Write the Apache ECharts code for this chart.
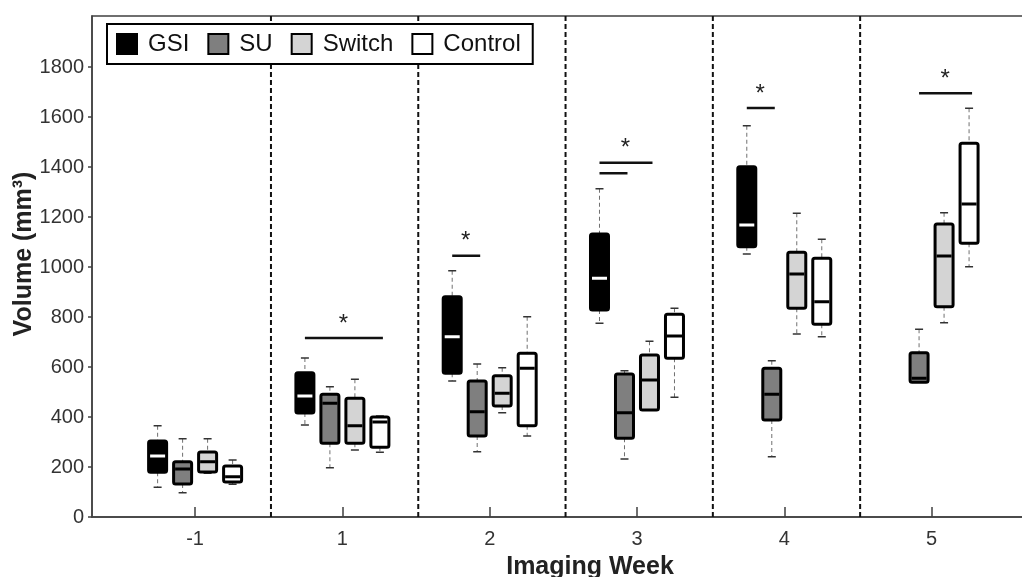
<!DOCTYPE html>
<html>
<head>
<meta charset="utf-8">
<script src="https://cdn.jsdelivr.net/npm/echarts@6/dist/echarts.min.js"></script>
<style>
html, body { margin: 0; padding: 0; background: #fff; }
#main { width: 1022px; height: 577px; }
</style>
</head>
<body>
<div id="main"></div>
<script>
const weeks = ['-1', '1', '2', '3', '4', '5'];
const groups = ['GSI', 'SU', 'Switch', 'Control'];

// [min, q1, median, q3, max] for each week, null = no box
const gsiStats = [
    [119, 179, 244, 304, 365],
    [368, 416, 484, 577, 636],
    [544, 575, 721, 881, 985],
    [775, 828, 955, 1132, 1313],
    [1052, 1081, 1168, 1401, 1565],
    null
];
const suStats = [
    [97, 132, 192, 221, 313],
    [197, 295, 455, 491, 521],
    [261, 324, 421, 544, 612],
    [232, 315, 417, 572, 585],
    [241, 388, 491, 595, 625],
    [539, 539, 555, 657, 751]
];
const switchStats = [
    [175, 180, 221, 260, 313],
    [268, 295, 365, 475, 551],
    [417, 444, 495, 565, 597],
    [428, 428, 548, 648, 703],
    [732, 835, 972, 1059, 1215],
    [777, 841, 1044, 1172, 1217]
];
const controlStats = [
    [131, 140, 161, 204, 228],
    [259, 279, 380, 400, 404],
    [324, 365, 595, 655, 801],
    [479, 635, 724, 811, 835],
    [721, 771, 861, 1035, 1111],
    [1001, 1095, 1252, 1495, 1635]
];

// significance bars: [week index, from group, to group, value, has star]
const sigBars = [
    [1, 0, 3, 716, 1],
    [2, 0, 1, 1045, 1],
    [3, 0, 2, 1417, 1],
    [3, 0, 1, 1375, 0],
    [4, 0, 1, 1636, 1],
    [5, 1, 3, 1695, 1]
];

const yTicks = [0, 200, 400, 600, 800, 1000, 1200, 1400, 1600, 1800];
const dividers = [0.515, 1.515, 2.515, 3.515, 4.515];

const fillColors = ['#000000', '#7f7f7f', '#d4d4d4', '#ffffff'];
const medianColors = ['#ffffff', '#000000', '#000000', '#000000'];
const groupStep = 0.1697; // spacing of boxes inside a week (axis units)
const FONT = 'Liberation Sans, Arial, sans-serif';

const allStats = [gsiStats, suStats, switchStats, controlStats];

function boxRenderer(g) {
    return function (params, api) {
        const x = api.value(0) + (g - 1.5) * groupStep;
        const lo = api.coord([x, api.value(1)]);
        const q1 = api.coord([x, api.value(2)]);
        const med = api.coord([x, api.value(3)]);
        const q3 = api.coord([x, api.value(4)]);
        const hi = api.coord([x, api.value(5)]);
        const cx = lo[0];
        const w = 18;
        const cap = 4;
        const dash = { stroke: '#707070', lineWidth: 1, lineDash: [4, 3] };
        const capStyle = { stroke: '#333', lineWidth: 1.5 };
        return {
            type: 'group',
            children: [
                { type: 'line', shape: { x1: cx, y1: hi[1], x2: cx, y2: q3[1] }, style: dash },
                { type: 'line', shape: { x1: cx, y1: q1[1], x2: cx, y2: lo[1] }, style: dash },
                { type: 'line', shape: { x1: cx - cap, y1: hi[1], x2: cx + cap, y2: hi[1] }, style: capStyle },
                { type: 'line', shape: { x1: cx - cap, y1: lo[1], x2: cx + cap, y2: lo[1] }, style: capStyle },
                {
                    type: 'rect',
                    shape: { x: cx - w / 2, y: q3[1], width: w, height: q1[1] - q3[1], r: 2 },
                    style: { fill: fillColors[g], stroke: '#000', lineWidth: 3 }
                },
                {
                    type: 'line',
                    shape: { x1: cx - w / 2 + 1.5, y1: med[1], x2: cx + w / 2 - 1.5, y2: med[1] },
                    style: { stroke: medianColors[g], lineWidth: 3 }
                }
            ]
        };
    };
}

const series = [];

// dashed week dividers
series.push({
    type: 'custom',
    silent: true,
    data: dividers.map(d => [d]),
    renderItem: function (params, api) {
        const p = api.coord([api.value(0), 0]);
        const top = params.coordSys.y;
        return {
            type: 'line',
            shape: { x1: p[0], y1: p[1], x2: p[0], y2: top },
            style: { stroke: '#111', lineWidth: 2, lineDash: [5, 3] }
        };
    },
    z: 1
});

groups.forEach((name, g) => {
    const data = [];
    allStats[g].forEach((s, i) => {
        if (s) data.push([i].concat(s));
    });
    series.push({
        name: name,
        type: 'custom',
        data: data,
        encode: { x: 0, y: [1, 2, 3, 4, 5] },
        itemStyle: { color: fillColors[g], borderColor: '#000', borderWidth: 2 },
        renderItem: boxRenderer(g),
        z: 3
    });
});

// significance bars and stars
series.push({
    type: 'custom',
    silent: true,
    data: sigBars,
    renderItem: function (params, api) {
        const wk = api.value(0);
        const a = api.coord([wk + (api.value(1) - 1.5) * groupStep, api.value(3)]);
        const b = api.coord([wk + (api.value(2) - 1.5) * groupStep, api.value(3)]);
        const children = [{
            type: 'line',
            shape: { x1: a[0], y1: a[1], x2: b[0] + 3, y2: b[1] },
            style: { stroke: '#111', lineWidth: 2.5 }
        }];
        if (api.value(4)) {
            children.push({
                type: 'text',
                style: {
                    text: '*', x: (a[0] + b[0]) / 2 + 1, y: a[1] - 2,
                    align: 'center', verticalAlign: 'bottom',
                    font: '24px ' + FONT, fill: '#222'
                }
            });
        }
        return { type: 'group', children: children };
    },
    z: 4
});

const chart = echarts.init(document.getElementById('main'));
chart.setOption({
    animation: false,
    textStyle: { fontFamily: FONT },
    grid: {
        left: 92, right: -66, top: 16, bottom: 60,
        outerBoundsMode: 'none',
        containLabel: false,
        show: true, borderColor: '#404040', borderWidth: 1.5
    },
    legend: {
        left: 107, top: 24,
        padding: [8, 12, 8, 9],
        borderColor: '#000', borderWidth: 2, backgroundColor: '#fff',
        itemWidth: 20, itemHeight: 20, itemGap: 18,
        selectedMode: false,
        textStyle: { fontSize: 24, color: '#111', fontFamily: FONT, padding: [0, 0, 0, 6], lineHeight: 24 },
        data: groups.map((g, i) => ({
            name: g, icon: 'rect',
            itemStyle: { color: fillColors[i], borderColor: '#000', borderWidth: 2 }
        }))
    },
    xAxis: {
        type: 'value',
        min: -0.7,
        max: 6.062,
        splitLine: { show: false },
        axisLine: { onZero: false, lineStyle: { color: '#404040', width: 1.5 } },
        axisTick: {
            inside: true, length: 10,
            customValues: weeks.map((w, i) => i),
            lineStyle: { color: '#404040', width: 1.5 }
        },
        axisLabel: {
            customValues: weeks.map((w, i) => i),
            formatter: v => weeks[Math.round(v)],
            fontSize: 20, color: '#333', margin: 12
        },
        name: 'Imaging Week',
        nameLocation: 'middle',
        nameGap: 38,
        nameMoveOverlap: false,
        nameTextStyle: { fontSize: 25, fontWeight: 'bold', color: '#222' }
    },
    yAxis: {
        type: 'value',
        min: 0,
        max: 2004,
        splitLine: { show: false },
        axisLine: { show: true, onZero: false, lineStyle: { color: '#404040', width: 1.5 } },
        axisTick: { show: true, length: 4, customValues: yTicks, lineStyle: { color: '#404040', width: 1.5 } },
        axisLabel: { customValues: yTicks, formatter: v => String(v), fontSize: 20, color: '#333', margin: 8 },
        name: 'Volume (mm³)',
        nameLocation: 'middle',
        nameGap: 55,
        nameRotate: 90,
        nameMoveOverlap: false,
        nameTextStyle: { fontSize: 25, fontWeight: 'bold', color: '#222', padding: [0, 0, 0, 25] }
    },
    series: series
});
</script>
</body>
</html>
